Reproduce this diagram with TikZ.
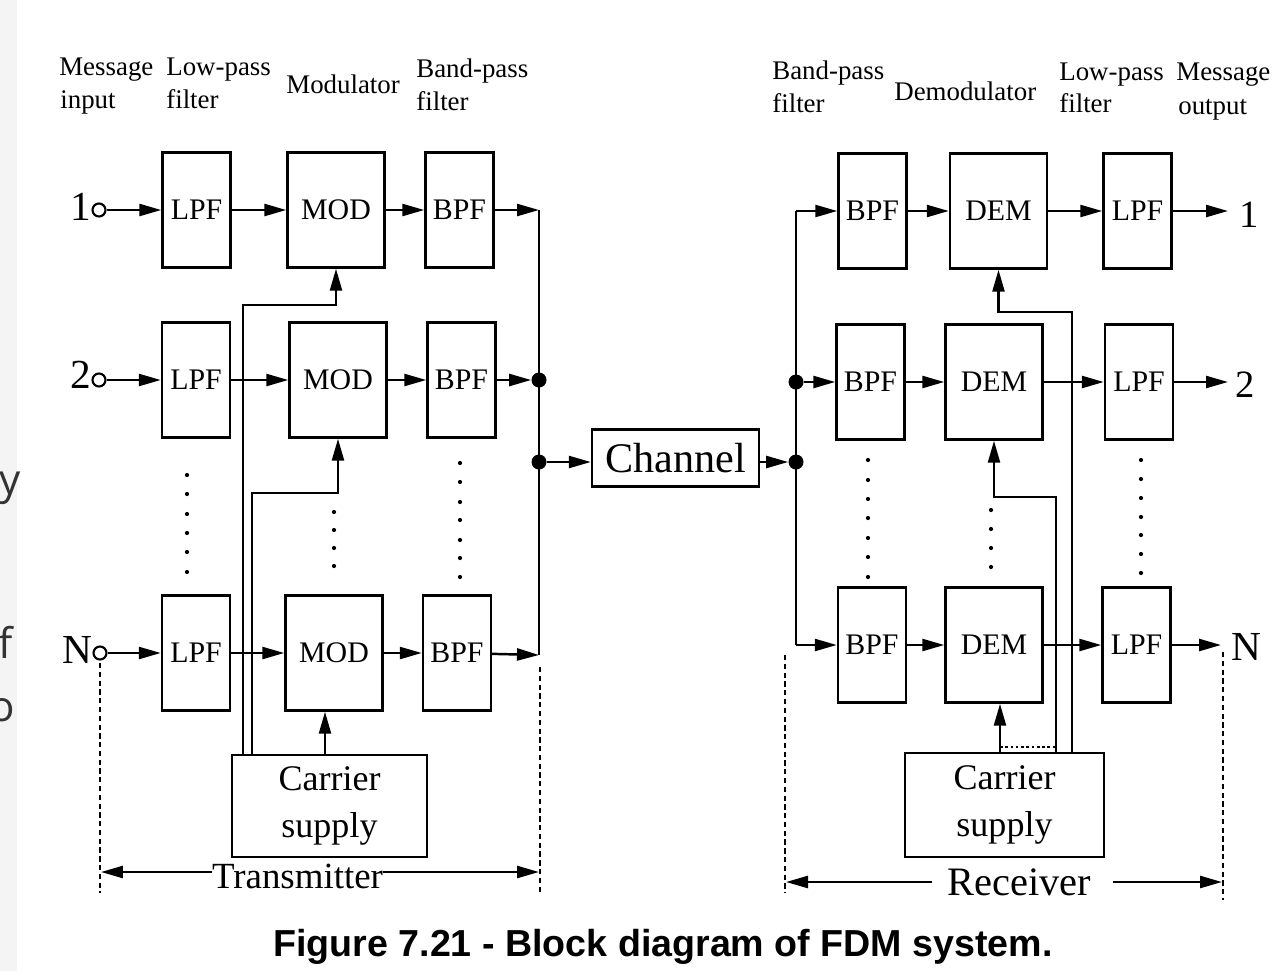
\documentclass[tikz,border=0pt]{standalone}
\usepackage{fontspec}
\setmainfont{Liberation Serif}
\newfontfamily\capfont{Liberation Sans}
\newfontfamily\slidefont{Open Sans}
\usetikzlibrary{arrows.meta}
\definecolor{slidegray}{HTML}{F4F4F4}
\definecolor{slidetext}{HTML}{333333}
\begin{document}
\begin{tikzpicture}[x=0.02cm,y=-0.02cm,
  blk/.style={draw, line width=1.4pt, inner sep=0pt, minimum height=2.3cm, font=\fontsize{17}{19}\selectfont},
  narrow/.style={blk, minimum width=1.36cm},
  wide/.style={blk, minimum width=1.94cm},
  wire/.style={line width=1.4pt},
  arr/.style={wire, -{Triangle[length=0.44cm,width=0.24cm]}},
  lbl/.style={font=\fontsize{15.3}{17}\selectfont, anchor=base west, inner sep=0pt},
  num/.style={font=\fontsize{23.5}{25}\selectfont, inner sep=0pt},
  term/.style={circle, draw, line width=1.2pt, minimum size=0.26cm, inner sep=0pt},
  jdot/.style={circle, fill, minimum size=0.3cm, inner sep=0pt},
  bound/.style={line width=1.3pt, dash pattern=on 3pt off 2pt},
  dotline/.style={line width=1.3pt, dash pattern=on 1.5pt off 1.5pt},
  supply/.style={draw, line width=1.4pt, inner sep=0pt, align=center, font=\fontsize{20.5}{27}\selectfont},
  frag/.style={font=\slidefont\fontsize{24}{26}\selectfont, text=slidetext, anchor=base west, inner sep=0pt}
]
\useasboundingbox (0,0) rectangle (1286,971);
\fill[slidegray] (0,0) rectangle (17,971);
\node[frag] (fy) at (-1,494) {y};
\node[frag] (ff) at (-2,658) {f};
\node[frag] (fo) at (-11,721) {o};

% ---------- top labels ----------
\node[lbl] (la1) at (59,75) {Message};
\node[lbl] (la2) at (60,108) {input};
\node[lbl] (lb1) at (166,75) {Low-pass};
\node[lbl] (lb2) at (166,108) {filter};
\node[lbl] (lc1) at (286,93) {Modulator};
\node[lbl] (ld1) at (416,77) {Band-pass};
\node[lbl] (ld2) at (416,110) {filter};
\node[lbl] (le1) at (772,79) {Band-pass};
\node[lbl] (le2) at (772,112) {filter};
\node[lbl] (lf1) at (894,100) {Demodulator};
\node[lbl] (lg1) at (1059,80) {Low-pass};
\node[lbl] (lg2) at (1059,112) {filter};
\node[lbl] (lh1) at (1176,80) {Message};
\node[lbl] (lh2) at (1178,114) {output};

% ---------- transmitter blocks ----------
\node[narrow] (tl1) at (196.5,210) {LPF};
\node[wide]   (tm1) at (336,210) {MOD};
\node[narrow] (tb1) at (459.5,210) {BPF};
\node[narrow] (tl2) at (196,380) {LPF};
\node[wide]   (tm2) at (338,380) {MOD};
\node[narrow] (tb2) at (461.5,380) {BPF};
\node[narrow] (tlN) at (196,653) {LPF};
\node[wide]   (tmN) at (334,653) {MOD};
\node[narrow] (tbN) at (457,653) {BPF};

% inputs
\node[term] (i1) at (99,210) {};
\node[num, anchor=base east] (n1) at (91,220) {1};
\node[term] (i2) at (99,380) {};
\node[num, anchor=base east] (n2) at (91,388) {2};
\node[term] (iN) at (100,653) {};
\node[num, anchor=base east] (nN) at (93,663) {N};
\draw[arr] (i1) -- (tl1);
\draw[arr] (i2) -- (tl2);
\draw[arr] (iN) -- (tlN);
\draw[arr] (tl1) -- (tm1);
\draw[arr] (tl2) -- (tm2);
\draw[arr] (tlN) -- (tmN);
\draw[arr] (tm1) -- (tb1);
\draw[arr] (tm2) -- (tb2);
\draw[arr] (tmN) -- (tbN);

% transmitter bus
\coordinate (tbus1) at (539,210);
\coordinate (tbusN) at (539,655);
\node[jdot] (tj1) at (539,380) {};
\node[jdot] (tj2) at (539,462) {};
\draw[wire] (tbus1) -- (tbusN);
\draw[arr] (tb1) -- (tbus1);
\draw[arr] (tb2) -- (tj1);
\draw[arr] (tbN) -- (tbusN);

% carrier supply (tx)
\node[supply, minimum width=3.9cm, minimum height=2.04cm] (cs1) at (329.5,806) {Carrier\\supply};
\coordinate (kA) at (243,305);
\coordinate (kB) at (252,493);
\coordinate (kC) at (325,700);
\draw[arr] (cs1.north -| kA) -- (kA) -| (tm1.south);
\draw[arr] (cs1.north -| kB) -- (kB) -| (tm2.south);
\draw[arr] (cs1.north -| kC) -- (tmN.south -| kC);

% channel
\node[draw, line width=1.4pt, inner sep=0pt, minimum width=3.34cm, minimum height=1.14cm,
      font=\fontsize{24}{26}\selectfont] (ch) at (675.5,458) {Channel\hspace{0.42cm}};
\node[jdot] (rj2) at (796,462) {};
\draw[arr] (tj2) -- (tj2 -| ch.west);
\draw[arr] (ch.east |- rj2) -- (rj2);

% ---------- receiver blocks ----------
\node[narrow] (rb1) at (872.5,211) {BPF};
\node[wide]   (rd1) at (998.5,211) {DEM};
\node[narrow] (rl1) at (1137.5,211) {LPF};
\node[narrow] (rb2) at (870.5,382) {BPF};
\node[wide]   (rd2) at (994,382) {DEM};
\node[narrow] (rl2) at (1139,382) {LPF};
\node[narrow] (rbN) at (872,645) {BPF};
\node[wide]   (rdN) at (994,645) {DEM};
\node[narrow] (rlN) at (1136.5,645) {LPF};

\coordinate (rbus1) at (796,211);
\coordinate (rbusN) at (796,645);
\node[jdot] (rj1) at (796,382) {};
\draw[wire] (rbus1) -- (rbusN);
\draw[arr] (rbus1) -- (rb1);
\draw[arr] (rj1) -- (rb2);
\draw[arr] (rbusN) -- (rbN);
\draw[arr] (rb1) -- (rd1);
\draw[arr] (rb2) -- (rd2);
\draw[arr] (rbN) -- (rdN);
\draw[arr] (rd1) -- (rl1);
\draw[arr] (rd2) -- (rl2);
\draw[arr] (rdN) -- (rlN);

% outputs
\coordinate (o1) at (1228,211);
\coordinate (o2) at (1228,382);
\coordinate (oN) at (1221,645);
\draw[arr] (rl1) -- (o1);
\draw[arr] (rl2) -- (o2);
\draw[arr] (rlN) -- (oN);
\node[num, anchor=base, font=\fontsize{22}{24}\selectfont] (m1) at (1249,227) {1};
\node[num, anchor=base, font=\fontsize{22}{24}\selectfont] (m2) at (1245,397) {2};
\node[num, anchor=base] (mN) at (1246,660) {N};

% carrier supply (rx)
\node[supply, minimum width=3.98cm, minimum height=2.08cm] (cs2) at (1004.5,805) {Carrier\\supply};
\coordinate (qA) at (1072,312);
\coordinate (qB) at (1056,497);
\coordinate (qC) at (1000,700);
\draw[arr] (cs2.north -| qA) -- (qA) -| (rd1.south);
\draw[arr] (cs2.north -| qB) -- (qB) -| (rd2.south);
\draw[arr] (cs2.north -| qC) -- (rdN.south -| qC);
\coordinate (qD1) at (1000,747);
\coordinate (qD2) at (1056,747);
\draw[dotline] (qD1) -- (qD2);

% column continuation dots
\foreach \yy in {475,494,514,533,552,572} \fill (187,\yy) circle (1.2pt);
\foreach \yy in {512,530,548,566} \fill (334,\yy) circle (1.2pt);
\foreach \yy in {463,482,502,520,540,558,577} \fill (460,\yy) circle (1.2pt);
\foreach \yy in {460,480,499,518,538,557,577} \fill (868,\yy) circle (1.2pt);
\foreach \yy in {510,529,548,567} \fill (991,\yy) circle (1.2pt);
\foreach \yy in {460,479,498,517,535,554,573} \fill (1141,\yy) circle (1.2pt);

% boundaries
\coordinate (bA1) at (100,663); \coordinate (bA2) at (100,893);
\coordinate (bB1) at (540,667); \coordinate (bB2) at (540,893);
\coordinate (bC1) at (785,655); \coordinate (bC2) at (785,893);
\coordinate (bD1) at (1223,652); \coordinate (bD2) at (1223,900);
\draw[bound] (bA1) -- (bA2);
\draw[bound] (bB1) -- (bB2);
\draw[bound] (bC1) -- (bC2);
\draw[bound] (bD1) -- (bD2);

\node[font=\fontsize{21}{23}\selectfont, anchor=base, inner sep=0pt] (tx) at (297.5,888) {Transmitter};
\coordinate (txl) at (101,872);
\coordinate (txr) at (539,872);
\draw[arr] (tx.west |- txl) -- (txl);
\draw[arr] (tx.east |- txr) -- (txr);

\node[font=\fontsize{23}{25}\selectfont, anchor=base, inner sep=0pt] (rx) at (1019.5,895) {Receiver};
\coordinate (rxl) at (786,882);
\coordinate (rxr) at (1222,882);
\draw[arr] ([xshift=-0.3cm]rx.west |- rxl) -- (rxl);
\draw[arr] ([xshift=0.42cm]rx.east |- rxr) -- (rxr);

% caption
\node[font=\capfont\bfseries\fontsize{21.4}{24}\selectfont, anchor=base, inner sep=0pt] (cap) at (663,956) {Figure 7.21 - Block diagram of FDM system.};
\end{tikzpicture}
\end{document}
